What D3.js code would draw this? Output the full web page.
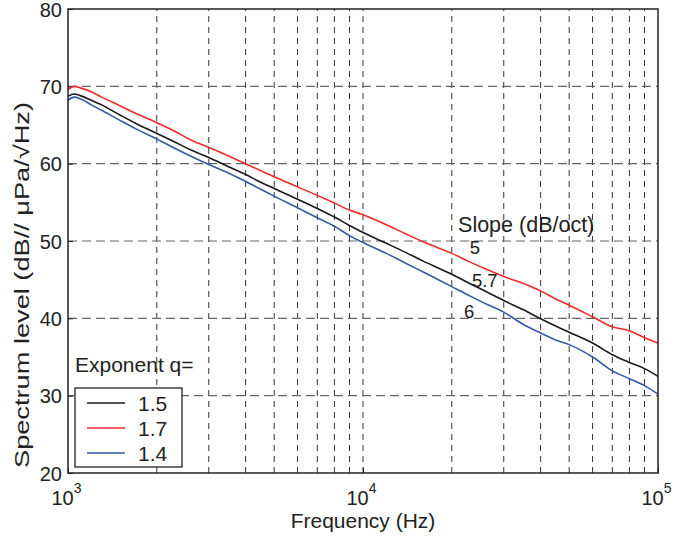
<!DOCTYPE html>
<html>
<head>
<meta charset="utf-8">
<script src="https://cdn.jsdelivr.net/npm/d3@7"></script>
<style>
  body { margin: 0; background: #fff; }
  text { font-family: "Liberation Sans", Arial, sans-serif; fill: #222; }
</style>
</head>
<body>
<main></main>
<script>
const w = 675;
const h = 539;
const margin = {left: 68, right: 17, top: 9, bottom: 66};

// frequency points (Hz) and spectrum levels
const freqs = [1000, 1050, 1100, 1200, 1300, 1500, 1700, 2000, 2300, 2600, 3000, 3500, 4000, 4500, 5000,
  6000, 7000, 8000, 9000, 10000, 12000, 14000, 16000, 18000, 20000, 23000, 26000, 30000, 35000,
  40000, 45000, 50000, 60000, 70000, 80000, 90000, 100000];
const q15 = [68.7, 69.0, 68.8, 68.2, 67.6, 66.3, 65.2, 63.9, 62.8, 61.8, 60.8, 59.6, 58.6, 57.6, 56.8,
  55.4, 54.2, 53.1, 52.0, 51.1, 49.7, 48.5, 47.4, 46.5, 45.7, 44.5, 43.5, 42.3, 41.1,
  39.95, 39.0, 38.2, 36.8, 35.3, 34.3, 33.5, 32.5];
const q17 = [69.6, 70.0, 69.8, 69.3, 68.6, 67.5, 66.5, 65.3, 64.2, 63.1, 62.1, 61.0, 60.0, 59.1, 58.3,
  57.0, 55.9, 54.9, 54.0, 53.4, 52.1, 50.9, 49.9, 49.1, 48.4, 47.3, 46.4, 45.4, 44.5,
  43.55, 42.5, 41.7, 40.2, 38.9, 38.4, 37.5, 36.8];
const q14 = [68.2, 68.6, 68.4, 67.6, 66.9, 65.6, 64.5, 63.2, 62.0, 61.0, 59.9, 58.8, 57.7, 56.7, 55.8,
  54.3, 53.0, 51.9, 50.7, 49.8, 48.4, 47.1, 46.0, 45.0, 44.1, 42.9, 41.9, 40.8, 39.2,
  38.1, 37.2, 36.6, 35.0, 33.2, 32.2, 31.3, 30.2];

const seriesNames = ["1.5", "1.7", "1.4"];
const seriesColors = ["#1a1a1a", "#ee2b2b", "#3558ac"];
const seriesValues = [q15, q17, q14];

const yTicks = [20, 30, 40, 50, 60, 70, 80];
const xMajor = [1e3, 1e4, 1e5];
const xMinor = [2e3, 3e3, 4e3, 5e3, 6e3, 7e3, 8e3, 9e3, 2e4, 3e4, 4e4, 5e4, 6e4, 7e4, 8e4, 9e4];

// slope annotations: [text, freq, level]
const slopeTitle = ["Slope (dB/oct)", 21000, 51.2];
const slopeLabels = [["5", 23000, 48.3], ["5.7", 23400, 44.1], ["6", 22000, 40.1]];

const svg = d3.select("main").append("svg")
  .attr("width", w).attr("height", h);

const x = d3.scaleLog().domain([1e3, 1e5]).range([margin.left, w - margin.right]);
const y = d3.scaleLinear().domain([20, 80]).range([h - margin.bottom, margin.top]);

// grid
svg.append("g")
  .selectAll("line")
  .data(xMinor.concat([1e4]))
  .join("line")
  .attr("x1", d => x(d)).attr("x2", d => x(d))
  .attr("y1", y(20)).attr("y2", y(80))
  .attr("stroke", "#333").attr("stroke-width", 1)
  .attr("stroke-dasharray", "6,5");
svg.append("g")
  .selectAll("line")
  .data(yTicks.slice(1, -1))
  .join("line")
  .attr("x1", x(1e3)).attr("x2", x(1e5))
  .attr("y1", d => y(d)).attr("y2", d => y(d))
  .attr("stroke", "#666").attr("stroke-width", 1.2)
  .attr("stroke-dasharray", "9,5");

// axes
const yAxis = d3.axisLeft(y).tickValues(yTicks).tickSize(-5).tickPadding(6);
svg.append("g")
  .attr("transform", `translate(${margin.left},0)`)
  .call(yAxis)
  .call(g => g.select(".domain").remove())
  .call(g => g.selectAll("text").style("font-size", "20px").attr("dy", "0.36em"))
  .call(g => g.selectAll("line").attr("stroke", "#222"));

const xAxis = d3.axisBottom(x).tickValues(xMajor).tickSize(-5).tickFormat("");
const xg = svg.append("g")
  .attr("transform", `translate(0,${h - margin.bottom})`)
  .call(xAxis)
  .call(g => g.select(".domain").remove())
  .call(g => g.selectAll("line").attr("stroke", "#222"));
xg.selectAll(".tick").append("text")
  .attr("y", 32).attr("x", -2)
  .attr("text-anchor", "middle")
  .style("font-size", "20px")
  .text("10")
  .append("tspan")
  .attr("dy", "-0.85em")
  .style("font-size", "14px")
  .text(d => Math.round(Math.log10(d)));

// curves
const line = d3.line()
  .x((d, i) => x(freqs[i]))
  .y(d => y(d))
  .curve(d3.curveMonotoneX);
svg.append("g")
  .selectAll("path")
  .data(seriesValues)
  .join("path")
  .attr("d", line)
  .attr("fill", "none")
  .attr("stroke", (d, i) => seriesColors[i])
  .attr("stroke-width", 1.6);

// frame
svg.append("rect")
  .attr("x", x(1e3)).attr("y", y(80))
  .attr("width", x(1e5) - x(1e3)).attr("height", y(20) - y(80))
  .attr("fill", "none").attr("stroke", "#222").attr("stroke-width", 1.5);

// slope annotations
svg.append("text")
  .attr("x", x(slopeTitle[1])).attr("y", y(slopeTitle[2]))
  .style("font-size", "21.5px")
  .text(slopeTitle[0]);
svg.append("g")
  .selectAll("text")
  .data(slopeLabels)
  .join("text")
  .attr("x", d => x(d[1])).attr("y", d => y(d[2]))
  .style("font-size", "18.5px")
  .text(d => d[0]);

// legend
svg.append("text")
  .attr("x", 75).attr("y", 372)
  .style("font-size", "21px")
  .text("Exponent q=");
const legend = svg.append("g").attr("transform", "translate(75,388)");
legend.append("rect")
  .attr("width", 107).attr("height", 79)
  .attr("fill", "#fff").attr("stroke", "#222").attr("stroke-width", 1.3);
const rows = legend.selectAll("g.row")
  .data(seriesNames)
  .join("g")
  .attr("class", "row")
  .attr("transform", (d, i) => `translate(0,${15 + i * 25})`);
rows.append("line")
  .attr("x1", 12).attr("x2", 50)
  .attr("stroke", (d, i) => seriesColors[i]).attr("stroke-width", 1.6);
rows.append("text")
  .attr("x", 63).attr("y", 7.5)
  .style("font-size", "21px")
  .text(d => d);

// axis titles
svg.append("text")
  .attr("x", x(1e4)).attr("y", 528)
  .attr("text-anchor", "middle")
  .style("font-size", "21px")
  .text("Frequency (Hz)");
svg.append("text")
  .attr("transform", "translate(29,285) rotate(-90)")
  .attr("text-anchor", "middle")
  .attr("textLength", 366)
  .attr("lengthAdjust", "spacingAndGlyphs")
  .style("font-size", "21px")
  .text("Spectrum level (dB// μPa/√Hz)");
</script>
</body>
</html>
